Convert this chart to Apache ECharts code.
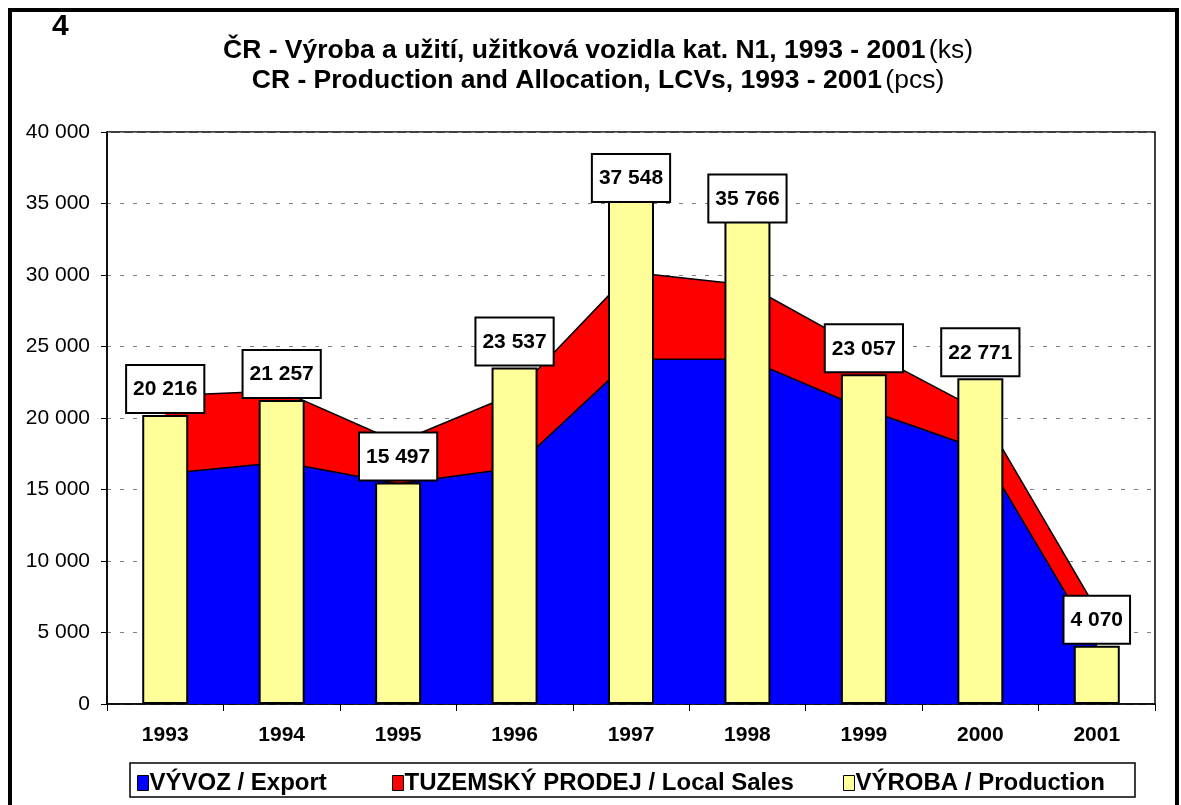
<!DOCTYPE html>
<html>
<head>
<meta charset="utf-8">
<title>ČR - Výroba a užití, užitková vozidla kat. N1, 1993 - 2001</title>
<script src="https://cdn.jsdelivr.net/npm/echarts@6/dist/echarts.min.js"></script>
<style>
    html, body { margin: 0; padding: 0; background: #fff; }
    #chart { width: 1181px; height: 805px; }
</style>
</head>
<body>
<div id="chart"></div>
<script>
// data
var years = ['1993', '1994', '1995', '1996', '1997', '1998', '1999', '2000', '2001'];
var exportValues = [16100, 16900, 15400, 16500, 24100, 24100, 20650, 17800, 4090];
var localSalesValues = [5450, 5000, 2900, 5200, 6100, 5200, 4150, 2700, 2500];
var productionValues = [20216, 21257, 15497, 23537, 37548, 35766, 23057, 22771, 4070];
var yMin = 0, yMax = 40000, yStep = 5000;

var seriesNames = ['VÝVOZ / Export', 'TUZEMSKÝ PRODEJ / Local Sales', 'VÝROBA / Production'];

// labels that sit lower than the bar top in the original
var labelNudge = { '1997': 37, '1998': 32 };

var font = "'Liberation Sans', Arial, sans-serif";

formatThousands = (v) => {
    return String(v).replace(/\B(?=(\d{3})+(?!\d))/g, ' ');
}

var productionData = productionValues.map((v, i) => {
    var item = { value: v };
    if (labelNudge[years[i]])
        item.label = { offset: [0, labelNudge[years[i]]] };
    return item;
});

var legendCommon = {
    icon: 'rect',
    itemWidth: 11,
    itemHeight: 15,
    itemGap: 0,
    padding: 0,
    top: 771,
    selectedMode: false,
    itemStyle: { borderColor: '#000', borderWidth: 1 },
    textStyle: { fontFamily: font, fontWeight: 'bold', fontSize: 24, color: '#000', padding: [0, 0, 0, -4] }
};

var titleRich = {
    b: { fontFamily: font, fontWeight: 'bold', fontSize: 26.5, fill: '#000' },
    n: { fontFamily: font, fontSize: 26.5, fill: '#000' }
};

var myChart = echarts.init(document.getElementById('chart'));
option = {
    backgroundColor: '#fff',
    animation: false,
    textStyle: { fontFamily: font },
    graphic: [
        {
            type: 'rect', z: -10, silent: true,
            shape: { x: 10, y: 10, width: 1167, height: 830 },
            style: { fill: null, stroke: '#000', lineWidth: 4 }
        },
        {
            type: 'rect', silent: true,
            shape: { x: 130, y: 763, width: 1005, height: 34 },
            style: { fill: null, stroke: '#000', lineWidth: 1.5 }
        },
        {
            type: 'text', silent: true, x: 52, y: 12,
            style: { text: '4', font: 'bold 30px ' + font, fill: '#000' }
        },
        {
            type: 'text', silent: true, x: 598, y: 51,
            style: {
                text: '{b|ČR - Výroba a užití, užitková vozidla kat. N1, 1993 - 2001} {n|(ks)}',
                align: 'center', verticalAlign: 'middle',
                rich: titleRich
            }
        },
        {
            type: 'text', silent: true, x: 598, y: 81,
            style: {
                text: '{b|CR - Production and Allocation, LCVs, 1993 - 2001} {n|(pcs)}',
                align: 'center', verticalAlign: 'middle',
                rich: titleRich
            }
        }
    ],
    legend: [
        Object.assign({ data: [seriesNames[0]], left: 137 }, legendCommon),
        Object.assign({ data: [seriesNames[1]], left: 392 }, legendCommon),
        Object.assign({ data: [seriesNames[2]], left: 843 }, legendCommon)
    ],
    grid: {
        left: 107,
        right: 26,
        top: 132,
        bottom: 101,
        show: true,
        borderColor: '#000',
        borderWidth: 1.5,
        backgroundColor: '#fff'
    },
    xAxis: {
        type: 'category',
        data: years,
        boundaryGap: true,
        axisLine: { lineStyle: { color: '#000', width: 1.5 } },
        axisTick: { show: true, alignWithLabel: false, length: 7, lineStyle: { color: '#000' } },
        axisLabel: { color: '#000', fontWeight: 'bold', fontSize: 21, margin: 21, fontFamily: font },
        splitLine: { show: false }
    },
    yAxis: {
        type: 'value',
        min: yMin,
        max: yMax,
        interval: yStep,
        axisLine: { show: true, lineStyle: { color: '#000', width: 1.5 } },
        axisTick: { show: true, length: 6, lineStyle: { color: '#000' } },
        axisLabel: { color: '#000', fontSize: 21, margin: 17, fontFamily: font, formatter: formatThousands },
        splitLine: { show: true, lineStyle: { color: '#808080', width: 1, type: [4, 9] } }
    },
    series: [
        {
            name: seriesNames[0],
            type: 'line',
            stack: 'allocation',
            data: exportValues,
            symbol: 'none',
            z: 1,
            itemStyle: { color: '#0000FF' },
            lineStyle: { color: '#000', width: 1.5 },
            areaStyle: { color: '#0000FF', opacity: 1 }
        },
        {
            name: seriesNames[1],
            type: 'line',
            stack: 'allocation',
            data: localSalesValues,
            symbol: 'none',
            z: 1,
            itemStyle: { color: '#FF0000' },
            lineStyle: { color: '#000', width: 1.5 },
            areaStyle: { color: '#FF0000', opacity: 1 }
        },
        {
            name: seriesNames[2],
            type: 'bar',
            data: productionData,
            barWidth: 46,
            zlevel: 1,
            z: 4,
            itemStyle: { color: '#FFFF99', borderColor: '#000', borderWidth: 2 },
            label: {
                show: true,
                position: 'top',
                distance: 3,
                formatter: (p) => formatThousands(p.value),
                backgroundColor: '#fff',
                borderColor: '#000',
                borderWidth: 2,
                padding: [13, 6, 12, 6],
                color: '#000',
                fontFamily: font,
                fontWeight: 'bold',
                fontSize: 21
            }
        }
    ]
};
myChart.setOption(option, true);
</script>
</body>
</html>
